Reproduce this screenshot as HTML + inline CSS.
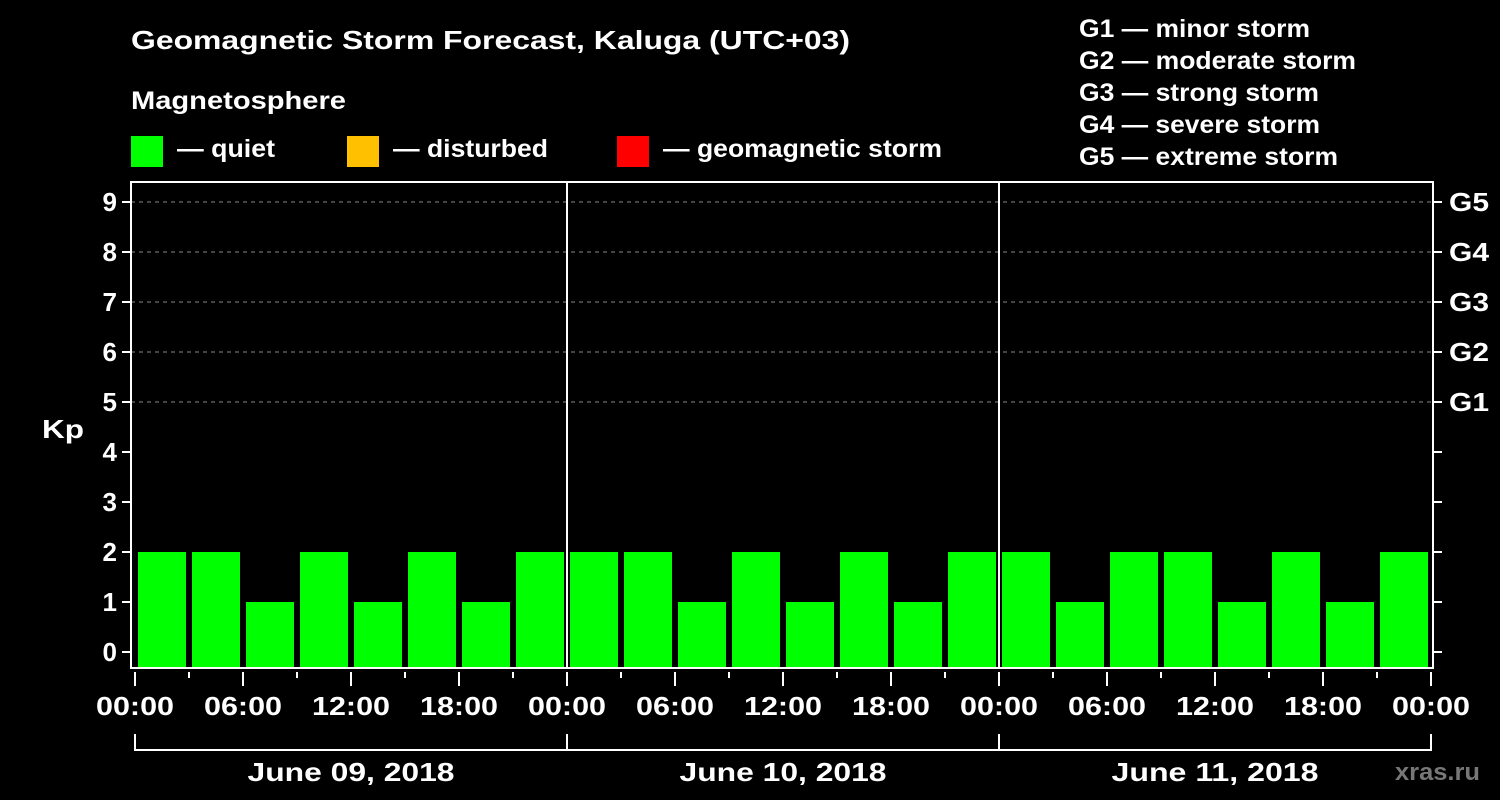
<!DOCTYPE html>
<html><head><meta charset="utf-8"><style>
body{margin:0;background:#000;}
svg{display:block;}
svg text{font-family:"Liberation Sans",Arial,sans-serif;font-weight:bold;}
</style></head><body>
<svg id="chart" width="1500" height="800" viewBox="0 0 1500 800" font-family="Liberation Sans" font-weight="bold">
<rect width="1500" height="800" fill="#000"/>
<text x="131" y="49" fill="#fff" font-size="26" textLength="719" lengthAdjust="spacingAndGlyphs">Geomagnetic Storm Forecast, Kaluga (UTC+03)</text>
<text x="131" y="109" fill="#fff" font-size="25" textLength="215" lengthAdjust="spacingAndGlyphs">Magnetosphere</text>
<g><rect x="131" y="136" width="32" height="31" fill="#00ff00"/><text x="177" y="157" fill="#fff" font-size="25" textLength="98" lengthAdjust="spacingAndGlyphs">— quiet</text></g>
<g><rect x="347" y="136" width="32" height="31" fill="#ffc000"/><text x="393" y="157" fill="#fff" font-size="25" textLength="155" lengthAdjust="spacingAndGlyphs">— disturbed</text></g>
<g><rect x="617" y="136" width="32" height="31" fill="#ff0000"/><text x="663" y="157" fill="#fff" font-size="25" textLength="279" lengthAdjust="spacingAndGlyphs">— geomagnetic storm</text></g>
<g fill="#fff" font-size="25">
<text x="1079" y="37" textLength="231" lengthAdjust="spacingAndGlyphs">G1 — minor storm</text>
<text x="1079" y="69" textLength="277" lengthAdjust="spacingAndGlyphs">G2 — moderate storm</text>
<text x="1079" y="101" textLength="240" lengthAdjust="spacingAndGlyphs">G3 — strong storm</text>
<text x="1079" y="133" textLength="241" lengthAdjust="spacingAndGlyphs">G4 — severe storm</text>
<text x="1079" y="165" textLength="259" lengthAdjust="spacingAndGlyphs">G5 — extreme storm</text>
</g>
<text x="42" y="438" fill="#fff" font-size="26" textLength="42" lengthAdjust="spacingAndGlyphs">Kp</text>
<text x="1395" y="780" fill="#777" font-size="24" textLength="85" lengthAdjust="spacingAndGlyphs">xras.ru</text>
<g id="grid"></g><g id="bars"></g><g id="axes"></g>
</svg>
<script>
const kpValues=[2,2,1,2,1,2,1,2, 2,2,1,2,1,2,1,2, 2,1,2,2,1,2,1,2];
const dayLabels=["June 09, 2018","June 10, 2018","June 11, 2018"];
const yTicks=[0,1,2,3,4,5,6,7,8,9];
const gLabels={5:"G1",6:"G2",7:"G3",8:"G4",9:"G5"};
const hourLabels=["00:00","06:00","12:00","18:00"];
const NS="http://www.w3.org/2000/svg";
const X0=135,HPX=18,Y0=652,KPX=50,TOP=182,BOT=668,RIGHT=1433,LEFT=131;
const xs=h=>X0+h*HPX, ys=v=>Y0-v*KPX;
function mk(t,a,p){const e=document.createElementNS(NS,t);for(const k in a)e.setAttribute(k,a[k]);p.appendChild(e);return e;}
const grid=document.getElementById('grid'),bars=document.getElementById('bars'),axes=document.getElementById('axes');
yTicks.forEach(v=>{
 if(v>=5){const l=mk('line',{x1:LEFT,x2:RIGHT,y1:ys(v),y2:ys(v),stroke:'#888','stroke-dasharray':'4,4','stroke-width':1},grid);
 
 }
 const t=mk('line',{x1:LEFT-9,x2:LEFT,y1:ys(v),y2:ys(v),stroke:'#fff','stroke-width':2},axes);
 
 
 const tr=mk('line',{x1:RIGHT,x2:RIGHT+9,y1:ys(v),y2:ys(v),stroke:'#fff','stroke-width':2},axes);
 
 
 const lb=mk('text',{x:LEFT-14,y:ys(v)+9,fill:'#fff','font-size':26,'text-anchor':'end'},axes);lb.textContent=v;
 
 
 if(gLabels[v]){const g=mk('text',{x:RIGHT+16,y:ys(v)+9,fill:'#fff','font-size':26,textLength:40,lengthAdjust:'spacingAndGlyphs'},axes);g.textContent=gLabels[v];
 
 }
});
kpValues.forEach((v,i)=>{
 const x1=xs(i*3)+3,x2=xs(i*3+3)-3;
 const col=v>=5?'#ff0000':(v>=4?'#ffc000':'#00ff00');
 const r=mk('rect',{x:x1,y:ys(v),width:x2-x1,height:BOT-ys(v),fill:col},bars);
 
 
});
const fr=mk('path',{d:`M${LEFT},${TOP}H${RIGHT}V${BOT}H${LEFT}Z`,fill:'none',stroke:'#fff','stroke-width':2},axes);


for(let d=1;d<dayLabels.length;d++){const l=mk('line',{x1:xs(d*24),x2:xs(d*24),y1:TOP,y2:BOT,stroke:'#fff','stroke-width':2},axes);
 
 }
for(let h=0;h<=72;h+=3){
 const major=h%6===0;
 const t=mk('line',{x1:xs(h),x2:xs(h),y1:BOT+4,y2:major?BOT+18:BOT+10,stroke:'#fff','stroke-width':2},axes);
 
 
 if(major){const lb=mk('text',{x:xs(h),y:715,fill:'#fff','font-size':26,'text-anchor':'middle',textLength:78,lengthAdjust:'spacingAndGlyphs'},axes);lb.textContent=hourLabels[(h%24)/6];
 
 }
}
const br=mk('path',{d:`M${xs(0)},734V750H${xs(72)}V734`,fill:'none',stroke:'#fff','stroke-width':2},axes);


dayLabels.forEach((d,i)=>{
 if(i>0){const l=mk('line',{x1:xs(i*24),x2:xs(i*24),y1:734,y2:750,stroke:'#fff','stroke-width':2},axes);
 
 }
 const t=mk('text',{x:xs(i*24+12),y:781,fill:'#fff','font-size':26,'text-anchor':'middle',textLength:207,lengthAdjust:'spacingAndGlyphs'},axes);t.textContent=d;
 
 
});
</script>
</body></html>
